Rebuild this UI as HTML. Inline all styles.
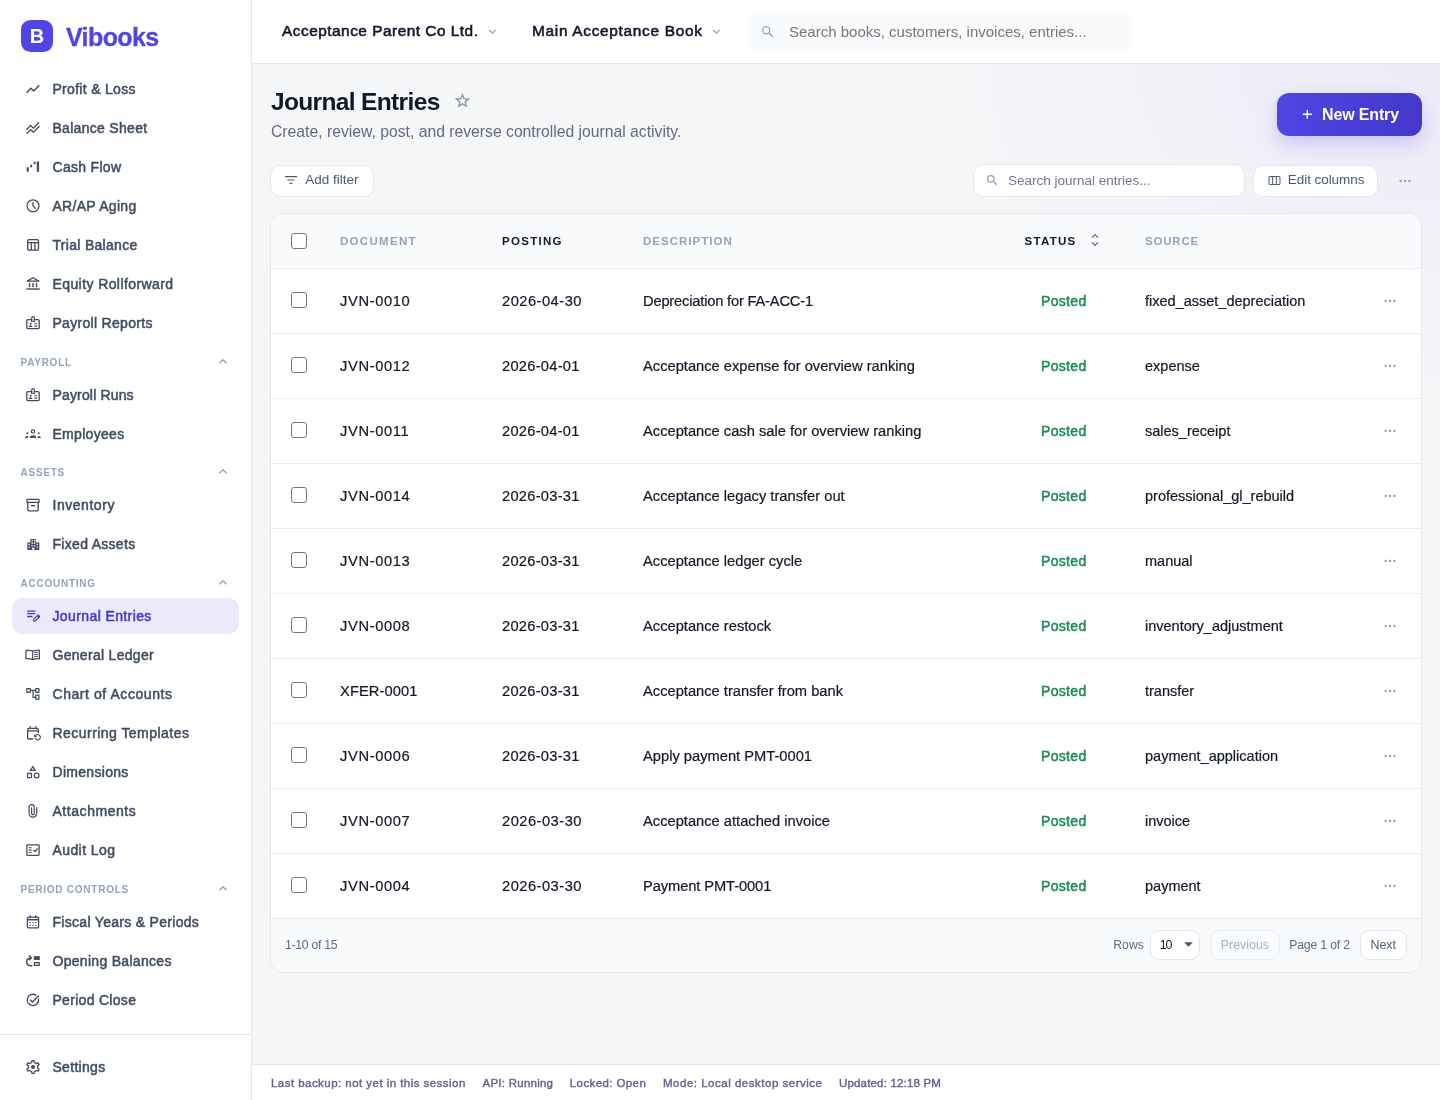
<!DOCTYPE html>
<html lang="en">
<head>
<meta charset="utf-8">
<title>Vibooks - Journal Entries</title>
<style>
*{box-sizing:border-box;margin:0;padding:0}
html,body{width:1440px;height:1100px;overflow:hidden}
body{font-family:"Liberation Sans",sans-serif;color:#0f172a;background:#f5f6f8;position:relative}
svg{display:block}
#app{position:absolute;left:0;top:0;width:1440px;height:1100px;will-change:transform}

/* ---------- sidebar ---------- */
.sidebar{position:absolute;left:0;top:0;width:252px;height:1100px;background:#fff;border-right:1px solid #e2e8f0}
.brand{position:absolute;left:21px;top:20px;height:32px;display:flex;align-items:center}
.brand .mark{width:32px;height:32px;border-radius:9.5px;background:#5046e5;color:#fff;font-weight:700;font-size:20px;padding-top:1px;display:flex;align-items:center;justify-content:center}
.brand .name{margin-left:13px;font-size:25px;font-weight:700;color:#5046e5;letter-spacing:-.6px;line-height:32px;position:relative;top:1px;-webkit-text-stroke:.3px #5046e5}
.nav{position:absolute;left:12px;top:71px;width:227px}
.nav a{display:flex;align-items:center;height:36px;margin-bottom:3px;border-radius:11px;padding-left:12.85px;color:#3f4c63;font-size:14px;font-weight:400;letter-spacing:.3px;-webkit-text-stroke:.5px currentColor;text-decoration:none;white-space:nowrap}
.nav a svg{width:16px;height:16px;flex:none;margin-right:11.65px;color:#3f4c63}
.nav a.active{background:#ebe9fb;color:#4338ca}
.nav a.active svg{color:#4338ca}
.nav .sec{height:30px;margin-bottom:3px;padding:14px 11px 0 8.5px;display:flex;justify-content:space-between;align-items:flex-start;font-size:10px;line-height:10px;font-weight:700;letter-spacing:.75px;color:#94a3b8}
.nav .sec svg{width:10px;height:10px;margin-top:-2px;color:#94a3b8}
.nav .sec.s2{height:29px;padding-top:13px}
.side-foot{position:absolute;left:0;top:1034px;width:251px;height:66px;border-top:1px solid #e2e8f0;background:#fff}
.side-foot .nav{top:14px}

/* ---------- topbar ---------- */
.topbar{position:absolute;left:252px;top:0;width:1188px;height:64px;background:#fff;border-bottom:1px solid #e2e8f0}
.pick{position:absolute;top:0;height:62px;display:flex;align-items:center;font-size:15.4px;font-weight:400;letter-spacing:.5px;-webkit-text-stroke:.55px currentColor;color:#0f172a;white-space:nowrap}
.pick svg{width:9px;height:9px;margin-left:9.4px;margin-top:1px;color:#8a98b3}
.gsearch{position:absolute;left:496px;top:13px;width:384px;height:38px;border-radius:10px;background:#f8fafc;display:flex;align-items:center;font-size:15px;color:#75777d;white-space:nowrap;padding-bottom:2px}
.gsearch svg{width:13px;height:13px;margin-left:12.5px;margin-right:15.5px;margin-top:0;color:#8ea2c6}

/* ---------- main ---------- */
.main{position:absolute;left:252px;top:64px;width:1188px;height:1000px;background:radial-gradient(ellipse 480px 330px at 100% 0%,#edebf8 0%,rgba(237,235,248,0) 100%),#f5f6f8}
h1{position:absolute;left:19px;top:22px;font-size:24.5px;line-height:32px;font-weight:700;letter-spacing:-.65px;color:#0f172a;white-space:nowrap}
.star{position:absolute;left:203px;top:29px;width:15px;height:15px;color:#8798b4}
.sub{position:absolute;left:19px;top:58px;font-size:15.720px;line-height:20px;color:#66668c;white-space:nowrap}
.btn-new{position:absolute;left:1025px;top:29px;width:145px;height:43px;border-radius:12px;background:linear-gradient(100deg,#4f46e5,#4338ca);box-shadow:0 8px 20px rgba(79,70,229,.24);color:#fff;font-size:16px;font-weight:700;letter-spacing:-.15px;display:flex;align-items:center;white-space:nowrap}
.btn-new svg{width:10.5px;height:10.5px;margin-left:24.5px;margin-right:10px;margin-top:-1px}
.obtn{position:absolute;top:101px;height:32px;border:1px solid #e2e8f0;border-radius:10px;background:#fff;display:flex;align-items:center;font-size:13.5px;color:#4b5a73;white-space:nowrap;padding-bottom:4px}
.obtn svg{flex:none}
.obtn.jsearch{padding-bottom:1px;color:#70788a}
.dots{position:absolute;color:#8a98b3}

/* ---------- table card ---------- */
.card{position:absolute;left:18px;top:149px;width:1152px;height:760px;border:1px solid #e2e8f0;border-radius:14px;background:#fff;overflow:hidden}
.thead{position:relative;height:55px;background:#f8fafc;border-bottom:1px solid #e8edf4}
.row{position:relative;height:65px;border-bottom:1px solid #e8edf4;font-size:14.7px;color:#111827;-webkit-text-stroke:.2px currentColor}
.row.last{border-bottom:1px solid #e2e8f0}
.c{position:absolute;top:0;height:100%;display:flex;align-items:center;white-space:nowrap}
.thead .c{font-size:11.5px;font-weight:700;letter-spacing:1.3px;color:#94a3b8}
.thead .c.dark{color:#0f172a}
.cb{position:absolute;left:20px;width:16px;height:16px;border:1px solid #767676;border-radius:3px;background:#fff}
.thead .cb{top:19px}
.row .cb{top:23px}
.c1{left:69px}.c2{left:231px}.c3{left:372px}.c4{left:753.5px}.c5{left:874px}
.thead .c5{letter-spacing:.8px}
.thead .c3{letter-spacing:1.02px}
.row .c4{left:770px;color:#1f8c58;font-weight:400;font-size:14px;letter-spacing:.33px;-webkit-text-stroke:.5px currentColor}
.row .c1{letter-spacing:.64px}
.row .c2{letter-spacing:.48px}
.row .c5{font-size:14.5px}
.rdots{position:absolute;left:1112.5px;top:30px;width:12px;height:4px;color:#8a98b3}
.tfoot{position:relative;height:54px;background:#f8fafc;font-size:12.2px;color:#5b6b84}
.tfoot .t{position:absolute;top:0;height:51px;display:flex;align-items:center;white-space:nowrap}
.pbtn{position:absolute;top:11px;height:30px;padding-bottom:1px;border:1px solid #e0e6ef;border-radius:9px;background:#fff;display:flex;align-items:center;justify-content:center;font-size:12.4px;color:#4e5d76}
.pbtn.dis{color:#a7b0c2;background:#f9fafc;border-color:#e8ecf3}

/* ---------- status bar ---------- */
.status{position:absolute;left:252px;top:1064px;width:1188px;height:36px;background:#fff;border-top:1px solid #e2e1f0;font-size:11.5px;font-weight:400;letter-spacing:.3px;-webkit-text-stroke:.4px currentColor;color:#65628f}
.status span{position:absolute;top:0;line-height:36px;white-space:nowrap}
</style>
</head>
<body>
<div id="app">

<aside class="sidebar">
  <div class="brand"><div class="mark">B</div><div class="name">Vibooks</div></div>
  <nav class="nav">
    <a><svg viewBox="0 0 16 16"><path fill="none" stroke="currentColor" stroke-width="1.4" stroke-linecap="butt" stroke-linejoin="miter" d="M1.6 11.7 L6 7.3 L8.7 10 L14.3 4.2"/></svg><span>Profit &amp; Loss</span></a>
    <a><svg viewBox="0 0 16 16"><path fill="none" stroke="currentColor" stroke-width="1.3" stroke-linecap="butt" stroke-linejoin="miter" d="M1.5 9.7 L5.7 5.5 L8.4 8.2 L14 2.5 M1.5 13.9 L5.7 9.7 L8.4 12.4 L14.4 6.3"/></svg><span>Balance Sheet</span></a>
    <a><svg viewBox="0 0 16 16"><path fill="currentColor" stroke="none" d="M1.7 8.300h2.1v4.400H1.700z M5.2 5.800h1.900v2.500H5.200z M8.7 2.700h1.900v2.500H8.700z M11.8 2.500h2.300v10.200h-2.300z"/></svg><span>Cash Flow</span></a>
    <a><svg viewBox="0 0 16 16"><circle fill="none" stroke="currentColor" stroke-width="1.3" stroke-linecap="round" stroke-linejoin="round" cx="8" cy="7.8" r="6"/><path fill="none" stroke="currentColor" stroke-width="1.3" stroke-linecap="round" stroke-linejoin="round" d="M8 4.400V7.900l2.3 2.3"/></svg><span>AR/AP Aging</span></a>
    <a><svg viewBox="0 0 16 16"><rect fill="none" stroke="currentColor" stroke-width="1.3" stroke-linecap="round" stroke-linejoin="round" x="2.7" y="2.6" width="10.8" height="10.6" rx="1.2"/><path fill="none" stroke="currentColor" stroke-width="1.3" stroke-linecap="butt" stroke-linejoin="round" d="M2.7 5.700h10.8 M6.3 5.700v7.5 M9.9 5.700v7.5"/></svg><span>Trial Balance</span></a>
    <a><svg viewBox="0 0 16 16"><path fill="none" stroke="currentColor" stroke-width="1.3" stroke-linecap="round" stroke-linejoin="round" d="M2.2 5.1 L8 1.7 L13.8 5.1 Z"/><path fill="none" stroke="currentColor" stroke-width="1.4" stroke-linecap="butt" stroke-linejoin="round" d="M4.5 7v4.2 M8 7v4.2 M11.5 7v4.2"/><path fill="none" stroke="currentColor" stroke-width="1.4" stroke-linecap="butt" stroke-linejoin="round" d="M1.3 13h13.4"/></svg><span style="letter-spacing:0.41px">Equity Rollforward</span></a>
    <a><svg viewBox="0 0 16 16"><path fill="none" stroke="currentColor" stroke-width="1.3" stroke-linecap="round" stroke-linejoin="round" d="M6.5 4.700H3a1.2 1.2 0 0 0-1.2 1.200v6.600a1.2 1.2 0 0 0 1.2 1.200h10a1.2 1.2 0 0 0 1.2-1.200V5.900a1.2 1.2 0 0 0-1.2-1.200H9.5"/><path fill="none" stroke="currentColor" stroke-width="1.2" stroke-linecap="round" stroke-linejoin="round" d="M6.7 6.500V2.900a1.3 1.3 0 0 1 2.6 0v3.600z"/><circle fill="currentColor" stroke="none" cx="5.6" cy="8.8" r="1"/><path fill="currentColor" stroke="none" d="M3.8 11.900c0-.9.8-1.4 1.8-1.400s1.8.5 1.8 1.400z"/><path fill="none" stroke="currentColor" stroke-width="1.1" stroke-linecap="butt" stroke-linejoin="round" d="M9.3 8.800h2.9 M9.3 11.100h2.9"/></svg><span>Payroll Reports</span></a>
    <div class="sec"><span>PAYROLL</span><svg viewBox="0 0 10 10"><path fill="none" stroke="currentColor" stroke-width="1.4" stroke-linecap="butt" stroke-linejoin="miter" d="M1.5 7.2 L5 3.7 L8.5 7.2"/></svg></div>
    <a><svg viewBox="0 0 16 16"><path fill="none" stroke="currentColor" stroke-width="1.3" stroke-linecap="round" stroke-linejoin="round" d="M6.5 4.700H3a1.2 1.2 0 0 0-1.2 1.200v6.600a1.2 1.2 0 0 0 1.2 1.200h10a1.2 1.2 0 0 0 1.2-1.200V5.900a1.2 1.2 0 0 0-1.2-1.200H9.5"/><path fill="none" stroke="currentColor" stroke-width="1.2" stroke-linecap="round" stroke-linejoin="round" d="M6.7 6.500V2.900a1.3 1.3 0 0 1 2.6 0v3.600z"/><circle fill="currentColor" stroke="none" cx="5.6" cy="8.8" r="1"/><path fill="currentColor" stroke="none" d="M3.8 11.900c0-.9.8-1.4 1.8-1.400s1.8.5 1.8 1.400z"/><path fill="none" stroke="currentColor" stroke-width="1.1" stroke-linecap="butt" stroke-linejoin="round" d="M9.3 8.800h2.9 M9.3 11.100h2.9"/></svg><span style="letter-spacing:0.16px">Payroll Runs</span></a>
    <a><svg viewBox="0 0 16 16"><circle fill="none" stroke="currentColor" stroke-width="1.2" stroke-linecap="round" stroke-linejoin="round" cx="8" cy="5.4" r="1.6"/><path fill="currentColor" stroke="none" d="M4.7 12.100c0-1.9 1.4-2.8 3.3-2.800s3.3.9 3.3 2.800z"/><circle fill="currentColor" stroke="none" cx="2.3" cy="7.3" r="1"/><circle fill="currentColor" stroke="none" cx="13.7" cy="7.3" r="1"/><path fill="currentColor" stroke="none" d="M.1 12.100c0-1.4.9-2.2 2.2-2.2.5 0 .9.1 1.2.3-.4.5-.6 1.2-.6 1.900z M15.9 12.100c0-1.4-.9-2.2-2.2-2.2-.5 0-.9.1-1.2.3.4.5.6 1.2.6 1.900z"/></svg><span>Employees</span></a>
    <div class="sec s2"><span>ASSETS</span><svg viewBox="0 0 10 10"><path fill="none" stroke="currentColor" stroke-width="1.4" stroke-linecap="butt" stroke-linejoin="miter" d="M1.5 7.2 L5 3.7 L8.5 7.2"/></svg></div>
    <a><svg viewBox="0 0 16 16"><path fill="none" stroke="currentColor" stroke-width="1.3" stroke-linecap="round" stroke-linejoin="round" d="M2 2.300h12v3.100H2z M2.8 5.400v7.300a1.2 1.2 0 0 0 1.2 1.200h8a1.2 1.2 0 0 0 1.2-1.200V5.4"/><path fill="none" stroke="currentColor" stroke-width="1.4" stroke-linecap="butt" stroke-linejoin="round" d="M6.1 8.700h3.8"/></svg><span style="letter-spacing:0.54px">Inventory</span></a>
    <a><svg viewBox="0 0 16 16"><path fill="currentColor" stroke="none" fill-rule="evenodd" d="M2.3 14V6.600h3V2.900h5.500v3.700h3.500V14H9.300v-2.500H7.300V14z M3.5 7.800v1.300h1.300V7.800z M3.5 10.300v1.300h1.300v-1.300z M6.5 4.100v1.300h1.300V4.100z M8.9 4.100v1.300h1.300V4.100z M6.5 6.600v1.300h1.300V6.600z M8.9 6.600v1.300h1.300V6.600z M6.5 9v1.300h1.300V9z M8.9 9v1.300h1.300V9z M11.6 7.800v1.300h1.300V7.800z M11.6 10.300v1.300h1.300v-1.300z M3.5 12.700v.2h1.300v-.2z M11.6 12.700v.2h1.300v-.2z"/></svg><span>Fixed Assets</span></a>
    <div class="sec"><span>ACCOUNTING</span><svg viewBox="0 0 10 10"><path fill="none" stroke="currentColor" stroke-width="1.4" stroke-linecap="butt" stroke-linejoin="miter" d="M1.5 7.2 L5 3.7 L8.5 7.2"/></svg></div>
    <a class="active"><svg viewBox="0 0 16 16"><path fill="none" stroke="currentColor" stroke-width="1.3" stroke-linecap="round" stroke-linejoin="round" d="M2.6 3.100h7.3 M2.6 5.700h7.3 M2.6 8.500h4.3"/><path fill="none" stroke="currentColor" stroke-width="1.1" stroke-linecap="round" stroke-linejoin="round" d="M8.7 13v-1.600l4.2-4.2 1.6 1.6-4.2 4.200z"/><path fill="currentColor" stroke="none" d="M11.7 8.100l1.3-1.300a.5.5 0 0 1 .7 0l1.3 1.300a.5.5 0 0 1 0 .7l-1.3 1.300z"/></svg><span style="letter-spacing:0.39px">Journal Entries</span></a>
    <a><svg viewBox="0 0 16 16"><path fill="none" stroke="currentColor" stroke-width="1.2" stroke-linecap="round" stroke-linejoin="round" d="M7.7 4.100v8.2 M7.7 4.100C6.3 3.3 4.5 3.1 1 3.400v8.400c3.1-.3 5.1 0 6.7.8 1.6-.8 3.6-1.1 6.7-.8V3.400c-3.5-.3-5.3-.1-6.7.7z"/><path fill="none" stroke="currentColor" stroke-width="0.95" stroke-linecap="butt" stroke-linejoin="round" d="M9.3 5.500h3.8 M9.3 7.500h3.8 M9.3 9.400h3.8"/></svg><span>General Ledger</span></a>
    <a><svg viewBox="0 0 16 16"><path fill="none" stroke="currentColor" stroke-width="1.25" stroke-linecap="butt" stroke-linejoin="round" d="M1.8 2.650h3.500v3.600H1.800z M10.8 2.650h3.100v3.600h-3.100z M10.8 9.050h3.100v4.100h-3.100z M5.3 4.400h5.5 M8.05 4.400v6.950h2.75"/></svg><span style="letter-spacing:0.56px">Chart of Accounts</span></a>
    <a><svg viewBox="0 0 16 16"><path fill="none" stroke="currentColor" stroke-width="1.3" stroke-linecap="round" stroke-linejoin="round" d="M7.7 14H3.900a1.2 1.2 0 0 1-1.2-1.200V4.500a1.2 1.2 0 0 1 1.2-1.200h8.200a1.2 1.2 0 0 1 1.2 1.200v3.1 M2.7 5.800h10.6 M5.2 1.600v1.9 M10.8 1.600v1.9"/><path fill="none" stroke="currentColor" stroke-width="1.15" stroke-linecap="round" stroke-linejoin="round" d="M10.6 10.500a2.7 2.7 0 1 1-.5 2.6"/><path fill="currentColor" stroke="none" d="M9.2 9v2.900h2.900z"/></svg><span style="letter-spacing:0.46px">Recurring Templates</span></a>
    <a><svg viewBox="0 0 16 16"><path fill="none" stroke="currentColor" stroke-width="1.25" stroke-linecap="butt" stroke-linejoin="miter" d="M7.75 2.6 L10.05 6.3 H5.45 Z"/><rect fill="none" stroke="currentColor" stroke-width="1.25" stroke-linecap="butt" stroke-linejoin="round" x="2.55" y="9.4" width="3.9" height="4.2"/><circle fill="none" stroke="currentColor" stroke-width="1.25" stroke-linecap="round" stroke-linejoin="round" cx="11.6" cy="11.5" r="2.4"/></svg><span>Dimensions</span></a>
    <a><svg viewBox="0 0 16 16"><path fill="none" stroke="currentColor" stroke-width="1.2" stroke-linecap="round" stroke-linejoin="round" d="M11.7 4.600v5.700a3.8 3.8 0 0 1-7.6 0V4.200a2.55 2.55 0 0 1 5.1 0v6.200a1.3 1.3 0 0 1-2.6 0V4.8"/></svg><span style="letter-spacing:0.55px">Attachments</span></a>
    <a><svg viewBox="0 0 16 16"><rect fill="none" stroke="currentColor" stroke-width="1.3" stroke-linecap="round" stroke-linejoin="round" x="1.9" y="2.8" width="12.2" height="10.5" rx=".8"/><path fill="none" stroke="currentColor" stroke-width="1.1" stroke-linecap="butt" stroke-linejoin="round" d="M3.8 5.700h2.9 M3.8 8.100h2.9 M3.8 10.500h2.9"/><path fill="none" stroke="currentColor" stroke-width="1.2" stroke-linecap="butt" stroke-linejoin="miter" d="M8.6 8l1.5 1.5 2.6-3.2"/></svg><span style="letter-spacing:0.41px">Audit Log</span></a>
    <div class="sec"><span>PERIOD CONTROLS</span><svg viewBox="0 0 10 10"><path fill="none" stroke="currentColor" stroke-width="1.4" stroke-linecap="butt" stroke-linejoin="miter" d="M1.5 7.2 L5 3.7 L8.5 7.2"/></svg></div>
    <a><svg viewBox="0 0 16 16"><path fill="none" stroke="currentColor" stroke-width="1.3" stroke-linecap="round" stroke-linejoin="round" d="M3.6 3.200h8.800a1.2 1.2 0 0 1 1.2 1.200v8.200a1.2 1.2 0 0 1-1.2 1.200H3.600a1.2 1.2 0 0 1-1.2-1.200V4.400a1.2 1.2 0 0 1 1.2-1.200z M5.2 1.700v2 M10.8 1.700v2"/><path fill="none" stroke="currentColor" stroke-width="1.5" stroke-linecap="butt" stroke-linejoin="round" d="M2.4 5.700h11.2"/><path fill="currentColor" stroke="none" d="M4.6 8.100h1.200v1.200H4.600z M7.4 8.100h1.200v1.200H7.400z M10.2 8.100h1.200v1.200h-1.200z M4.6 10.700h1.200v1.200H4.600z M7.4 10.700h1.200v1.200H7.400z M10.2 10.700h1.200v1.200h-1.200z"/></svg><span>Fiscal Years &amp; Periods</span></a>
    <a><svg viewBox="0 0 16 16"><path fill="none" stroke="currentColor" stroke-width="1.4" stroke-linecap="round" stroke-linejoin="round" d="M6.8 12.700H5.300a3.8 3.8 0 0 1-1.1-7.400l1.6-.4"/><path fill="none" stroke="currentColor" stroke-width="1.4" stroke-linecap="butt" stroke-linejoin="miter" d="M3.9 2.500l2.4 2.3-2.3 2.4"/><path fill="currentColor" stroke="none" d="M8.8 3.100h6v3.900h-6z"/><rect fill="none" stroke="currentColor" stroke-width="1.3" stroke-linecap="butt" stroke-linejoin="miter" x="9.45" y="9.65" width="4.7" height="2.7"/></svg><span>Opening Balances</span></a>
    <a><svg viewBox="0 0 16 16"><path fill="none" stroke="currentColor" stroke-width="1.3" stroke-linecap="round" stroke-linejoin="round" d="M13.5 7a5.7 5.7 0 1 1-2.7-3.9"/><path fill="none" stroke="currentColor" stroke-width="1.3" stroke-linecap="butt" stroke-linejoin="miter" d="M5.2 7.700l2.3 2.3 6.3-6.5"/></svg><span>Period Close</span></a>
  </nav>
  <div class="side-foot"><nav class="nav">
    <a><svg viewBox="0 0 16 16"><path fill="none" stroke="currentColor" stroke-width="1.3" stroke-linecap="round" stroke-linejoin="round" d="M6.63 3.51 L6.98 1.58 L9.02 1.58 L9.37 3.51 L9.91 3.71 L10.76 4.20 L11.21 4.56 L13.05 3.91 L14.07 5.67 L12.58 6.94 L12.67 7.51 L12.67 8.49 L12.58 9.06 L14.07 10.33 L13.05 12.09 L11.21 11.44 L10.76 11.80 L9.91 12.29 L9.37 12.49 L9.02 14.42 L6.98 14.42 L6.63 12.49 L6.09 12.29 L5.24 11.80 L4.79 11.44 L2.95 12.09 L1.93 10.33 L3.42 9.06 L3.33 8.49 L3.33 7.51 L3.42 6.94 L1.93 5.67 L2.95 3.91 L4.79 4.56 L5.24 4.20 L6.09 3.71 Z"/><circle fill="currentColor" stroke="none" cx="8" cy="8" r="2"/></svg><span>Settings</span></a>
  </nav></div>
</aside>

<header class="topbar">
  <div class="pick" style="left:30px"><span>Acceptance Parent Co Ltd.</span><svg viewBox="0 0 10 10"><path fill="none" stroke="currentColor" stroke-width="1.2" stroke-linecap="butt" stroke-linejoin="miter" d="M1.4 3.3 L5 6.9 L8.6 3.3"/></svg></div>
  <div class="pick" style="left:280px;letter-spacing:.7px"><span>Main Acceptance Book</span><svg viewBox="0 0 10 10"><path fill="none" stroke="currentColor" stroke-width="1.2" stroke-linecap="butt" stroke-linejoin="miter" d="M1.4 3.3 L5 6.9 L8.6 3.3"/></svg></div>
  <div class="gsearch"><svg viewBox="0 0 14 14"><circle fill="none" stroke="currentColor" stroke-width="1.4" stroke-linecap="round" stroke-linejoin="round" cx="5.6" cy="5.6" r="3.8"/><path fill="none" stroke="currentColor" stroke-width="1.6" stroke-linecap="butt" stroke-linejoin="round" d="M8.5 8.500l4.1 4.1"/></svg><span>Search books, customers, invoices, entries...</span></div>
</header>

<main class="main">
  <h1>Journal Entries</h1>
  <span class="star"><svg viewBox="0 0 15 15"><path fill="none" stroke="currentColor" stroke-width="1.4" stroke-linecap="butt" stroke-linejoin="miter" d="M7.5 1.900l1.65 3.9 4.2.35-3.2 2.75.95 4.1-3.6-2.2-3.6 2.2.95-4.1-3.2-2.75 4.2-.35z"/></svg></span>
  <p class="sub">Create, review, post, and reverse controlled journal activity.</p>
  <div class="btn-new"><svg viewBox="0 0 12 12"><path fill="none" stroke="currentColor" stroke-width="1.6" stroke-linecap="butt" stroke-linejoin="round" d="M6 .8v10.4 M.8 6h10.4"/></svg><span>New Entry</span></div>

  <div class="obtn" style="left:18px;width:104px"><svg style="width:12px;height:12px;margin:2px 8.3px 0 14px" viewBox="0 0 12 12"><path fill="none" stroke="currentColor" stroke-width="1.2" stroke-linecap="butt" stroke-linejoin="round" d="M0 2.600h12 M2.4 6h7.2 M4.6 9.400h2.8"/></svg><span>Add filter</span></div>
  <div class="obtn jsearch" style="left:721px;width:272px;top:100px;height:33px"><svg style="width:12px;height:12px;margin:0 10.5px 0 11.5px;color:#8a9cc0" viewBox="0 0 14 14"><circle fill="none" stroke="currentColor" stroke-width="1.4" stroke-linecap="round" stroke-linejoin="round" cx="5.6" cy="5.6" r="3.8"/><path fill="none" stroke="currentColor" stroke-width="1.6" stroke-linecap="butt" stroke-linejoin="round" d="M8.5 8.500l4.1 4.1"/></svg><span>Search journal entries...</span></div>
  <div class="obtn" style="left:1001px;width:125px;letter-spacing:-.06px"><svg style="width:13px;height:13px;margin:2px 6.8px 0 14px" viewBox="0 0 14 13"><rect fill="none" stroke="currentColor" stroke-width="1.1" stroke-linecap="round" stroke-linejoin="round" x="1.1" y="2.3" width="11.8" height="8.6" rx="1.2"/><path fill="none" stroke="currentColor" stroke-width="1.1" stroke-linecap="butt" stroke-linejoin="round" d="M5 2.300v8.6 M9 2.300v8.6"/></svg><span>Edit columns</span></div>
  <span class="dots" style="left:1147px;top:115px;width:12px;height:4px"><svg viewBox="0 0 12 4"><circle fill="currentColor" stroke="none" cx="1.6" cy="2" r="1.15"/><circle fill="currentColor" stroke="none" cx="6" cy="2" r="1.15"/><circle fill="currentColor" stroke="none" cx="10.4" cy="2" r="1.15"/></svg></span>

  <section class="card">
    <div class="thead"><span class="cb"></span><div class="c c1">DOCUMENT</div><div class="c c2 dark">POSTING</div><div class="c c3">DESCRIPTION</div><div class="c c4 dark"><span>STATUS</span><svg style="width:8px;height:14px;margin-left:14px;margin-top:-2px;color:#5a6478" viewBox="0 0 8 14"><path fill="none" stroke="currentColor" stroke-width="1.2" stroke-linecap="butt" stroke-linejoin="miter" d="M1 4.700L4 1.700l3 3 M1 9.300L4 12.300l3-3"/></svg></div><div class="c c5">SOURCE</div></div>
    <div class="row"><span class="cb"></span><div class="c c1">JVN-0010</div><div class="c c2">2026-04-30</div><div class="c c3" style="letter-spacing:-.19px">Depreciation for FA-ACC-1</div><div class="c c4">Posted</div><div class="c c5">fixed_asset_depreciation</div><span class="rdots"><svg viewBox="0 0 12 4"><circle fill="currentColor" stroke="none" cx="1.6" cy="2" r="1.15"/><circle fill="currentColor" stroke="none" cx="6" cy="2" r="1.15"/><circle fill="currentColor" stroke="none" cx="10.4" cy="2" r="1.15"/></svg></span></div>
    <div class="row"><span class="cb"></span><div class="c c1">JVN-0012</div><div class="c c2" style="letter-spacing:.25px">2026-04-01</div><div class="c c3">Acceptance expense for overview ranking</div><div class="c c4">Posted</div><div class="c c5">expense</div><span class="rdots"><svg viewBox="0 0 12 4"><circle fill="currentColor" stroke="none" cx="1.6" cy="2" r="1.15"/><circle fill="currentColor" stroke="none" cx="6" cy="2" r="1.15"/><circle fill="currentColor" stroke="none" cx="10.4" cy="2" r="1.15"/></svg></span></div>
    <div class="row"><span class="cb"></span><div class="c c1">JVN-0011</div><div class="c c2" style="letter-spacing:.25px">2026-04-01</div><div class="c c3">Acceptance cash sale for overview ranking</div><div class="c c4">Posted</div><div class="c c5">sales_receipt</div><span class="rdots"><svg viewBox="0 0 12 4"><circle fill="currentColor" stroke="none" cx="1.6" cy="2" r="1.15"/><circle fill="currentColor" stroke="none" cx="6" cy="2" r="1.15"/><circle fill="currentColor" stroke="none" cx="10.4" cy="2" r="1.15"/></svg></span></div>
    <div class="row"><span class="cb"></span><div class="c c1">JVN-0014</div><div class="c c2" style="letter-spacing:.25px">2026-03-31</div><div class="c c3">Acceptance legacy transfer out</div><div class="c c4">Posted</div><div class="c c5">professional_gl_rebuild</div><span class="rdots"><svg viewBox="0 0 12 4"><circle fill="currentColor" stroke="none" cx="1.6" cy="2" r="1.15"/><circle fill="currentColor" stroke="none" cx="6" cy="2" r="1.15"/><circle fill="currentColor" stroke="none" cx="10.4" cy="2" r="1.15"/></svg></span></div>
    <div class="row"><span class="cb"></span><div class="c c1">JVN-0013</div><div class="c c2" style="letter-spacing:.25px">2026-03-31</div><div class="c c3">Acceptance ledger cycle</div><div class="c c4">Posted</div><div class="c c5">manual</div><span class="rdots"><svg viewBox="0 0 12 4"><circle fill="currentColor" stroke="none" cx="1.6" cy="2" r="1.15"/><circle fill="currentColor" stroke="none" cx="6" cy="2" r="1.15"/><circle fill="currentColor" stroke="none" cx="10.4" cy="2" r="1.15"/></svg></span></div>
    <div class="row"><span class="cb"></span><div class="c c1">JVN-0008</div><div class="c c2" style="letter-spacing:.25px">2026-03-31</div><div class="c c3">Acceptance restock</div><div class="c c4">Posted</div><div class="c c5">inventory_adjustment</div><span class="rdots"><svg viewBox="0 0 12 4"><circle fill="currentColor" stroke="none" cx="1.6" cy="2" r="1.15"/><circle fill="currentColor" stroke="none" cx="6" cy="2" r="1.15"/><circle fill="currentColor" stroke="none" cx="10.4" cy="2" r="1.15"/></svg></span></div>
    <div class="row"><span class="cb"></span><div class="c c1" style="letter-spacing:.1px">XFER-0001</div><div class="c c2" style="letter-spacing:.25px">2026-03-31</div><div class="c c3">Acceptance transfer from bank</div><div class="c c4">Posted</div><div class="c c5">transfer</div><span class="rdots"><svg viewBox="0 0 12 4"><circle fill="currentColor" stroke="none" cx="1.6" cy="2" r="1.15"/><circle fill="currentColor" stroke="none" cx="6" cy="2" r="1.15"/><circle fill="currentColor" stroke="none" cx="10.4" cy="2" r="1.15"/></svg></span></div>
    <div class="row"><span class="cb"></span><div class="c c1">JVN-0006</div><div class="c c2" style="letter-spacing:.25px">2026-03-31</div><div class="c c3">Apply payment PMT-0001</div><div class="c c4">Posted</div><div class="c c5">payment_application</div><span class="rdots"><svg viewBox="0 0 12 4"><circle fill="currentColor" stroke="none" cx="1.6" cy="2" r="1.15"/><circle fill="currentColor" stroke="none" cx="6" cy="2" r="1.15"/><circle fill="currentColor" stroke="none" cx="10.4" cy="2" r="1.15"/></svg></span></div>
    <div class="row"><span class="cb"></span><div class="c c1">JVN-0007</div><div class="c c2">2026-03-30</div><div class="c c3">Acceptance attached invoice</div><div class="c c4">Posted</div><div class="c c5">invoice</div><span class="rdots"><svg viewBox="0 0 12 4"><circle fill="currentColor" stroke="none" cx="1.6" cy="2" r="1.15"/><circle fill="currentColor" stroke="none" cx="6" cy="2" r="1.15"/><circle fill="currentColor" stroke="none" cx="10.4" cy="2" r="1.15"/></svg></span></div>
    <div class="row last"><span class="cb"></span><div class="c c1">JVN-0004</div><div class="c c2">2026-03-30</div><div class="c c3" style="letter-spacing:-.1px">Payment PMT-0001</div><div class="c c4">Posted</div><div class="c c5">payment</div><span class="rdots"><svg viewBox="0 0 12 4"><circle fill="currentColor" stroke="none" cx="1.6" cy="2" r="1.15"/><circle fill="currentColor" stroke="none" cx="6" cy="2" r="1.15"/><circle fill="currentColor" stroke="none" cx="10.4" cy="2" r="1.15"/></svg></span></div>
    <div class="tfoot">
      <div class="t" style="left:14px;letter-spacing:-.25px">1-10 of 15</div>
      <div class="t" style="left:842.3px">Rows</div>
      <div class="pbtn sel" style="left:879.3px;width:50px;justify-content:flex-start"><span style="margin-left:8.5px;color:#0f172a;letter-spacing:-1.2px">10</span><svg style="width:9px;height:5px;margin-left:12.4px;margin-top:0;color:#4a5a78" viewBox="0 0 10 5"><path fill="currentColor" stroke="none" d="M0 0h10L5 5z"/></svg></div>
      <div class="pbtn dis" style="left:939.2px;width:69.4px">Previous</div>
      <div class="t" style="left:1018.2px;letter-spacing:-.15px">Page 1 of 2</div>
      <div class="pbtn" style="left:1088.5px;width:47.5px">Next</div>
    </div>
  </section>
</main>

<footer class="status">
  <span style="left:19px;letter-spacing:.455px">Last backup: not yet in this session</span>
  <span style="left:230.5px;letter-spacing:.25px">API: Running</span>
  <span style="left:317.8px;letter-spacing:.4px">Locked: Open</span>
  <span style="left:411px;letter-spacing:.51px">Mode: Local desktop service</span>
  <span style="left:587px;letter-spacing:.17px">Updated: 12:18 PM</span>
</footer>

</div>
</body>
</html>
